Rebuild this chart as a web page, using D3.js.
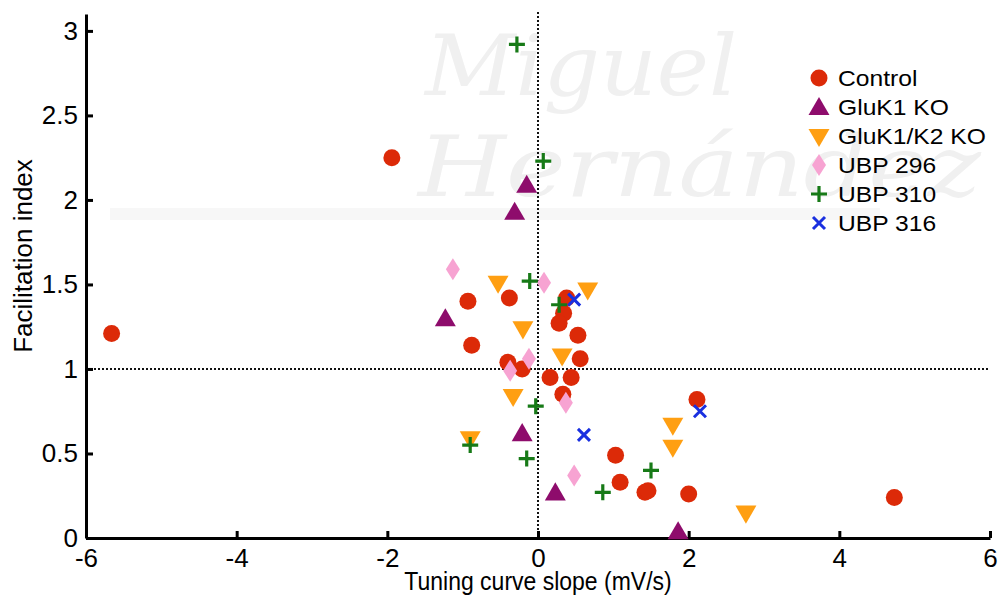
<!DOCTYPE html>
<html>
<head>
<meta charset="utf-8">
<script src="https://cdn.jsdelivr.net/npm/d3@7"></script>
<style>
  body { margin: 0; background: #fff; }
  svg text { font-family: "Liberation Sans", Arial, sans-serif; }
</style>
</head>
<body>
<svg id="chart" width="1000" height="597"></svg>
<script>
// data: [slope mV/s, facilitation index]
const control = [
  [-5.66, 1.21], [-1.94, 2.25], [-0.93, 1.40], [-0.38, 1.42], [-0.88, 1.14],
  [0.38, 1.42], [0.34, 1.33], [0.28, 1.27], [0.53, 1.20], [0.56, 1.06],
  [-0.40, 1.04], [-0.21, 1.00], [0.16, 0.95], [0.44, 0.95], [0.33, 0.85],
  [1.03, 0.49], [1.09, 0.33], [1.42, 0.27], [1.46, 0.28], [2.0, 0.26],
  [2.11, 0.82], [4.73, 0.24]
];
const gluk1 = [
  [-0.15, 2.09], [-0.31, 1.93], [-1.23, 1.30], [-0.21, 0.62], [0.23, 0.27], [1.86, 0.04]
];
const gluk1k2 = [
  [-0.53, 1.51], [0.66, 1.47], [-0.20, 1.24], [0.32, 1.08], [-0.33, 0.84],
  [-0.90, 0.59], [1.79, 0.67], [1.79, 0.54], [2.76, 0.15]
];
const ubp296 = [
  [-1.13, 1.59], [0.08, 1.51], [-0.12, 1.06], [-0.37, 0.99], [0.37, 0.80], [0.48, 0.37]
];
const ubp310 = [
  [-0.28, 2.92], [0.07, 2.23], [-0.11, 1.52], [0.28, 1.38], [-0.03, 0.78],
  [-0.90, 0.55], [-0.15, 0.47], [0.86, 0.27], [1.50, 0.40]
];
const ubp316 = [
  [0.48, 1.41], [0.61, 0.61], [2.15, 0.75]
];

const xTicks = [-6, -4, -2, 0, 2, 4, 6];
const yTicks = [0, 0.5, 1, 1.5, 2, 2.5, 3];

const svg = d3.select("#chart");

// faint watermark in the background (university logo)
const wm = svg.append("g").attr("fill", "#f0f0f0");
wm.append("rect").attr("x", 110).attr("y", 208).attr("width", 770).attr("height", 12).attr("fill", "#f7f7f7");
wm.append("text").attr("transform", "translate(425,95) scale(1.05,1)")
  .style("font-family", "DejaVu Serif, serif").style("font-style", "italic")
  .style("font-size", "84px").text("Miguel");
wm.append("text").attr("transform", "translate(418,196) scale(1.2,1)")
  .style("font-family", "DejaVu Serif, serif").style("font-style", "italic")
  .style("font-size", "84px").text("Hernández");

const x = d3.scaleLinear().domain([-6, 6]).range([86, 990]);
const y = d3.scaleLinear().domain([0, 3.1]).range([538, 14]);

// reference lines
svg.append("line")
  .attr("x1", x(0)).attr("x2", x(0)).attr("y1", 12).attr("y2", y(0))
  .attr("stroke", "#111").attr("stroke-width", 2).attr("stroke-dasharray", "2,2");
svg.append("line")
  .attr("x1", x(-6)).attr("x2", x(6)).attr("y1", y(1)).attr("y2", y(1))
  .attr("stroke", "#111").attr("stroke-width", 2).attr("stroke-dasharray", "2,2");

// axes
const fmt = (d) => String(d);
const xAxis = svg.append("g")
  .attr("transform", `translate(0,${y(0)})`)
  .call(d3.axisBottom(x).tickValues(xTicks).tickSizeInner(-7).tickSizeOuter(0).tickPadding(11).tickFormat(fmt));
const yAxis = svg.append("g")
  .attr("transform", `translate(${x(-6)},0)`)
  .call(d3.axisLeft(y).tickValues(yTicks).tickSizeInner(-7).tickSizeOuter(0).tickPadding(8).tickFormat(fmt));

[xAxis, yAxis].forEach((g) => {
  g.select(".domain").attr("stroke", "#000").attr("stroke-width", 3);
  g.selectAll(".tick line").attr("stroke", "#000").attr("stroke-width", 3);
  g.selectAll(".tick text").attr("fill", "#000").style("font-size", "26px");
});

svg.append("text")
  .attr("transform", `translate(${x(0)},590) scale(1,1.12)`)
  .attr("text-anchor", "middle")
  .style("font-size", "23px").text("Tuning curve slope (mV/s)");
svg.append("text")
  .attr("transform", "translate(32,256) rotate(-90)")
  .attr("text-anchor", "middle")
  .style("font-size", "26px").text("Facilitation index");

// marker painters
const triUp = d3.symbol().type(d3.symbolTriangle).size(190)();
const diamond = "M0,-11L7,0L0,11L-7,0Z";

function drawCircle(g, cx, cy, color) {
  g.append("circle").attr("cx", cx).attr("cy", cy).attr("r", 8.5).attr("fill", color);
}
function drawTri(g, cx, cy, color, down) {
  g.append("path").attr("d", triUp).attr("fill", color)
    .attr("transform", `translate(${cx},${cy + (down ? -1 : 2)})${down ? " rotate(180)" : ""}`);
}
function drawDiamond(g, cx, cy, color) {
  g.append("path").attr("d", diamond).attr("fill", color)
    .attr("transform", `translate(${cx},${cy})`);
}
function drawPlus(g, cx, cy, color) {
  g.append("path").attr("d", "M-8,0H8M0,-8V8").attr("stroke", color)
    .attr("stroke-width", 3.2).attr("fill", "none")
    .attr("transform", `translate(${cx},${cy})`);
}
function drawCross(g, cx, cy, color) {
  g.append("path").attr("d", "M-6,-6L6,6M6,-6L-6,6").attr("stroke", color)
    .attr("stroke-width", 3).attr("fill", "none")
    .attr("transform", `translate(${cx},${cy})`);
}

const series = [
  { name: "Control", data: control, color: "#dc2a08", draw: drawCircle },
  { name: "GluK1 KO", data: gluk1, color: "#8e0c6c", draw: (g, a, b, c) => drawTri(g, a, b, c, false) },
  { name: "GluK1/K2 KO", data: gluk1k2, color: "#ff9f12", draw: (g, a, b, c) => drawTri(g, a, b, c, true) },
  { name: "UBP 296", data: ubp296, color: "#f7a3d2", draw: drawDiamond },
  { name: "UBP 310", data: ubp310, color: "#177a17", draw: drawPlus },
  { name: "UBP 316", data: ubp316, color: "#1a30e0", draw: drawCross }
];

const pts = svg.append("g");
series.forEach((s) => {
  s.data.forEach((d) => s.draw(pts, x(d[0]), y(d[1]), s.color));
});

// legend
const legend = svg.append("g");
series.forEach((s, i) => {
  const ly = 78 + i * 29;
  s.draw(legend, 819, ly, s.color);
  legend.append("text").attr("transform", `translate(838,${ly + 8}) scale(1.12,1)`)
    .style("font-size", "22px").attr("fill", "#000").text(s.name);
});
</script>
</body>
</html>
